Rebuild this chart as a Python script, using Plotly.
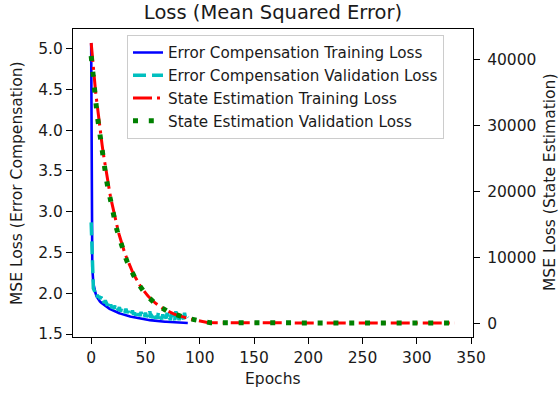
import plotly.graph_objects as go

# ---- Error compensation network (left axis), one value per epoch ----
ec_train_loss = [
    5.07, 2.32, 2.12, 2.05, 2.00, 1.96, 1.935, 1.915, 1.900, 1.888,
    1.877, 1.866, 1.855, 1.845, 1.836, 1.826, 1.817, 1.809, 1.802, 1.795,
    1.789, 1.783, 1.777, 1.771, 1.765, 1.760, 1.755, 1.750, 1.745, 1.741,
    1.737, 1.733, 1.729, 1.725, 1.722, 1.718, 1.715, 1.712, 1.709, 1.706,
    1.703, 1.700, 1.697, 1.694, 1.691, 1.689, 1.686, 1.684, 1.682, 1.680,
    1.678, 1.676, 1.674, 1.672, 1.670, 1.668, 1.666, 1.665, 1.663, 1.662,
    1.660, 1.659, 1.658, 1.656, 1.655, 1.654, 1.653, 1.652, 1.651, 1.650,
    1.649, 1.648, 1.647, 1.646, 1.645, 1.644, 1.644, 1.643, 1.642, 1.641,
    1.640, 1.640, 1.639, 1.638, 1.638, 1.637, 1.637, 1.636, 1.636, 1.635,
]
ec_val_loss = [
    2.87, 2.20, 2.06, 2.03, 1.99, 2.01, 1.95, 1.97, 1.93, 1.96,
    1.90, 1.92, 1.88, 1.91, 1.87, 1.85, 1.89, 1.84, 1.86, 1.82,
    1.84, 1.81, 1.85, 1.80, 1.82, 1.79, 1.83, 1.78, 1.80, 1.77,
    1.79, 1.76, 1.81, 1.76, 1.78, 1.75, 1.77, 1.74, 1.79, 1.74,
    1.76, 1.73, 1.78, 1.73, 1.75, 1.72, 1.77, 1.72, 1.74, 1.71,
    1.76, 1.71, 1.73, 1.70, 1.78, 1.70, 1.72, 1.70, 1.75, 1.69,
    1.72, 1.69, 1.77, 1.69, 1.71, 1.68, 1.74, 1.68, 1.72, 1.69,
    1.76, 1.68, 1.71, 1.67, 1.75, 1.68, 1.70, 1.67, 1.78, 1.68,
    1.72, 1.67, 1.74, 1.69, 1.71, 1.68, 1.76, 1.69, 1.72, 1.70,
]
ec_epochs = list(range(len(ec_train_loss)))

# ---- State estimation network (right axis) ----
# every epoch through the steep part, then every 5th epoch on the plateau
se_train_head = [
    42470, 40300, 38300, 36700, 35200, 33800, 32300, 30900, 29600, 28300,
    27100, 25900, 24800, 23700, 22700, 21700, 20800, 19900, 19000, 18200,
    17400, 16600, 15900, 15200, 14500, 13900, 13300, 12700, 12100, 11600,
    11100, 10600, 10200, 9750, 9330, 8920, 8530, 8160, 7810, 7470,
    7150, 6840, 6540, 6260, 5990, 5730, 5480, 5240, 5010, 4790,
    4590, 4390, 4200, 4020, 3840, 3680, 3520, 3370, 3220, 3080,
    2950, 2820, 2700, 2580, 2470, 2360, 2260, 2160, 2070, 1980,
    1890, 1810, 1730, 1650, 1580, 1510, 1440, 1370, 1310, 1250,
    1190, 1130, 1080, 1020, 970, 920, 870, 820, 780, 730,
    690, 650, 610, 570, 530, 490, 450, 410, 370, 340,
    310, 280, 250, 220, 195, 170, 150, 130, 115, 100,
    90,
]
se_val_head = [
    40500, 38400, 36800, 35300, 33900, 32400, 31000, 29700, 28400, 27200,
    26000, 24900, 23800, 22800, 21800, 20900, 20000, 19100, 18300, 17500,
    16700, 16000, 15300, 14600, 14000, 13400, 12800, 12200, 11700, 11200,
    10700, 10300, 9820, 9400, 8990, 8600, 8230, 7870, 7530, 7210,
    6900, 6600, 6310, 6040, 5780, 5530, 5290, 5060, 4840, 4630,
    4430, 4240, 4060, 3880, 3720, 3560, 3400, 3260, 3120, 2990,
    2860, 2740, 2620, 2510, 2400, 2300, 2200, 2100, 2010, 1920,
    1840, 1760, 1680, 1610, 1540, 1470, 1400, 1340, 1280, 1220,
    1160, 1110, 1060, 1010, 960, 910, 860, 820, 770, 730,
    690, 650, 610, 570, 530, 490, 455, 420, 385, 350,
    320, 290, 260, 230, 205, 180, 160, 140, 120, 105,
    95,
]
se_tail_epochs = list(range(115, 336, 5))
se_train_tail = [
    82, 76, 71, 67, 64, 61, 59, 57, 56, 55,
    54, 53, 52, 52, 51, 51, 50, 50, 50, 49,
    49, 49, 48, 48, 48, 48, 47, 47, 47, 47,
    47, 46, 46, 46, 46, 46, 46, 46, 46, 46,
    46, 46, 46, 46, 46,
]
se_val_tail = [
    86, 79, 73, 69, 65, 62, 60, 58, 57, 56,
    55, 54, 53, 53, 52, 52, 51, 51, 51, 50,
    50, 50, 49, 49, 49, 49, 48, 48, 48, 48,
    48, 47, 47, 47, 47, 47, 47, 47, 47, 47,
    47, 47, 47, 47, 47,
]

se_epochs = list(range(len(se_train_head))) + se_tail_epochs
se_train_loss = se_train_head + se_train_tail
se_val_loss = se_val_head + se_val_tail

x_ticks = [0, 50, 100, 150, 200, 250, 300, 350]
y_left_ticks = [1.5, 2.0, 2.5, 3.0, 3.5, 4.0, 4.5, 5.0]
y_right_ticks = [0, 10000, 20000, 30000, 40000]

FONT = "DejaVu Sans"
TXT = "#1a1a1a"
FS = 15.5


def padded(lo, hi, frac=0.05):
    span = hi - lo
    return [lo - frac * span, hi + frac * span]


x_range = padded(min(ec_epochs + se_epochs), max(ec_epochs + se_epochs))
y_left_range = padded(min(ec_train_loss + ec_val_loss), max(ec_train_loss + ec_val_loss))
y_right_range = padded(min(se_train_loss + se_val_loss), max(se_train_loss + se_val_loss))

fig = go.Figure()
fig.add_trace(go.Scatter(
    x=ec_epochs, y=ec_train_loss, mode="lines",
    name="Error Compensation Training Loss",
    line=dict(color="#0000ff", width=2.6),
))
fig.add_trace(go.Scatter(
    x=ec_epochs, y=ec_val_loss, mode="lines",
    name="Error Compensation Validation Loss",
    line=dict(color="#00bfbf", width=3.5, dash="13px,6px"),
))
fig.add_trace(go.Scatter(
    x=se_epochs, y=se_train_loss, mode="lines", yaxis="y2",
    name="State Estimation Training Loss",
    line=dict(color="#ff0000", width=3, dash="19px,5px,3px,5px"),
))
fig.add_trace(go.Scatter(
    x=se_epochs, y=se_val_loss, mode="lines", yaxis="y2",
    name="State Estimation Validation Loss",
    line=dict(color="#008000", width=5, dash="5px,10.8px"),
))

axis_common = dict(
    showgrid=False, zeroline=False, showline=True, linecolor="black",
    linewidth=1.1, ticks="outside", ticklen=6, tickwidth=1.1,
    tickcolor="black", tickfont=dict(family=FONT, size=FS, color=TXT),
)

fig.update_layout(
    width=559, height=395,
    margin=dict(l=73, r=86, t=29, b=58),
    paper_bgcolor="white", plot_bgcolor="white",
    font=dict(family=FONT, size=FS, color=TXT),
    title=dict(
        text="Loss (Mean Squared Error)", x=0.5, xanchor="center",
        xref="paper", y=(395 - 12) / 395, yanchor="middle", yref="container",
        font=dict(family=FONT, size=19.5, color=TXT),
    ),
    xaxis=dict(**axis_common, range=x_range, tickvals=x_ticks, mirror=True),
    yaxis=dict(**axis_common, range=y_left_range, tickvals=y_left_ticks,
               tickformat=".1f"),
    yaxis2=dict(**axis_common, range=y_right_range, tickvals=y_right_ticks,
                overlaying="y", side="right", tickformat="d",
                ticklabelstandoff=4),
    showlegend=True,
    legend=dict(
        x=0.135, y=0.98, xanchor="left", yanchor="top",
        bgcolor="rgba(255,255,255,0.8)", bordercolor="#cccccc", borderwidth=1,
        font=dict(family=FONT, size=15.2, color=TXT),
        tracegroupgap=0,
    ),
    annotations=[
        dict(text="Epochs", xref="paper", yref="paper", x=0.5, y=-42 / 308,
             xanchor="center", yanchor="middle", showarrow=False,
             font=dict(family=FONT, size=FS, color=TXT)),
        dict(text="MSE Loss (Error Compensation)", xref="paper", yref="paper",
             x=-56 / 400, y=0.5, xanchor="center", yanchor="middle",
             textangle=-90, showarrow=False,
             font=dict(family=FONT, size=FS, color=TXT)),
        dict(text="MSE Loss (State Estimation)", xref="paper", yref="paper",
             x=1 + 77 / 400, y=0.5, xanchor="center", yanchor="middle",
             textangle=-90, showarrow=False,
             font=dict(family=FONT, size=FS, color=TXT)),
    ],
)

fig.write_html("out.html")
